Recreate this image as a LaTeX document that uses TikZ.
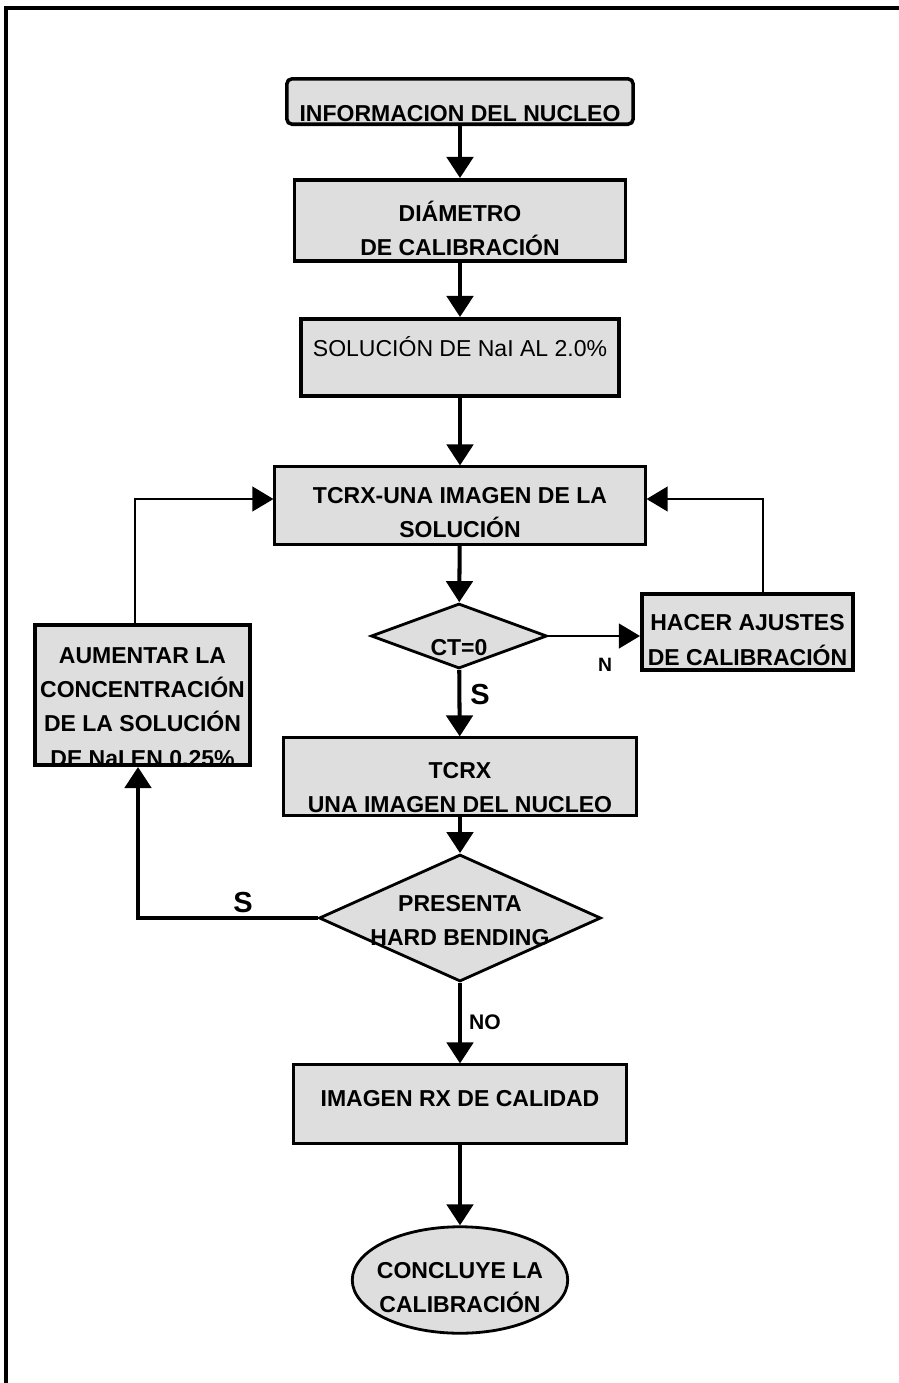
\documentclass[tikz,border=0pt]{standalone}
\usepackage{fontspec}
\setmainfont{Liberation Sans}
\usetikzlibrary{calc}
\usetikzlibrary{positioning}
\usetikzlibrary{shapes.geometric}
\usetikzlibrary{arrows.meta}

\definecolor{cajagris}{gray}{0.87}
% text of a box, shifted up or down inside it
\newcommand{\textocaja}[2]{\raisebox{#1}[0pt][0pt]{\makebox[0pt]{\begin{tabular}{@{}c@{}}#2\end{tabular}}}}

\tikzset{
  caja/.style={draw, line width=2pt, fill=cajagris, inner sep=0pt,
    font=\fontsize{13.1}{19.6}\selectfont\bfseries},
  rombo/.style={caja, diamond, line width=1.6pt},
  flecha/.style={line width=2.3pt, -{Triangle[width=15pt,length=12pt]}},
  retorno/.style={line width=1.3pt, -{Triangle[width=14pt,length=12pt]}},
  etiqueta/.style={inner sep=0pt, font=\bfseries}
}

\begin{document}
\begin{tikzpicture}[x=0.02cm,y=-0.02cm]
\useasboundingbox (0,0) rectangle (899,1383);
% outer frame, cut by the page
\draw[line width=2.3pt] (6,8) rectangle (940,1440);

%% boxes of the main column
\node[caja, rounded corners=3pt, minimum width=6.93cm, minimum height=0.91cm] (info) at (460,101.5) {\textocaja{-10.6pt}{INFORMACION DEL NUCLEO}};
\node[caja, minimum width=6.63cm, minimum height=1.63cm] (diam) at (460,220.5) {\textocaja{-9.2pt}{DIÁMETRO\\DE CALIBRACIÓN}};
\node[caja, minimum width=6.37cm, minimum height=1.55cm] (sol) at (460,357.5) {\textocaja{1.6pt}{\mdseries SOLUCIÓN DE NaI AL 2.0\%}};
\node[caja, line width=1.5pt, minimum width=7.41cm, minimum height=1.55cm] (tcrx1) at (460,505.5) {\textocaja{-7.7pt}{TCRX-UNA IMAGEN DE LA\\SOLUCIÓN}};
\node[rombo, minimum width=3.52cm, minimum height=1.3cm] (ct) at (459,636) {\textocaja{-10pt}{CT=0}};
\node[caja, line width=1.5pt, minimum width=7.07cm, minimum height=1.55cm] (tcrx2) at (460,776.5) {\textocaja{-10pt}{TCRX\\UNA IMAGEN DEL NUCLEO}};
\node[rombo, minimum width=5.64cm, minimum height=2.54cm] (pres) at (460,918) {\textocaja{-4.9pt}{PRESENTA\\HARD BENDING}};
\node[caja, line width=1.5pt, minimum width=6.67cm, minimum height=1.57cm] (imagen) at (460,1104) {\textocaja{-0.4pt}{IMAGEN RX DE CALIDAD}};
\node[caja, ellipse, line width=1.6pt, minimum width=4.31cm, minimum height=2.13cm] (concl) at (460,1280) {\textocaja{-8pt}{CONCLUYE LA\\CALIBRACIÓN}};

%% side boxes
\node[caja, minimum width=4.23cm, minimum height=1.53cm] (hacer) at (747.5,632) {\textocaja{-8.3pt}{HACER AJUSTES\\DE CALIBRACIÓN}};
\node[caja, minimum width=4.31cm, minimum height=2.81cm] (aum) at (142.5,695) {\textocaja{-10.3pt}{AUMENTAR LA\\CONCENTRACIÓN\\DE LA SOLUCIÓN\\DE NaI EN 0.25\%}};

%% labels
\node[etiqueta, font=\fontsize{11}{13}\selectfont\bfseries] (ln) at (605,665) {N};
\node[etiqueta, font=\fontsize{16.5}{20}\selectfont\bfseries] (ls1) at (480,695) {S};
\node[etiqueta, font=\fontsize{16.5}{20}\selectfont\bfseries] (ls2) at (243,903) {S};
\node[etiqueta, font=\fontsize{12}{14}\selectfont\bfseries] (lno) at (485,1022) {NO};

%% connectors
\draw[flecha] (info) -- (diam);
\draw[flecha] (diam) -- (sol);
\draw[flecha] (sol) -- (tcrx1);
\draw[flecha] (tcrx1) -- (ct);
\draw[flecha] (ct) -- (tcrx2);
\draw[flecha] (tcrx2) -- (pres);
\draw[flecha] (pres) -- (imagen);
\draw[flecha] (imagen) -- (concl);
\draw[retorno] (ct.east) -- (ct.east -| hacer.west); % N
\draw[retorno] ([xshift=0.31cm]hacer.north) |- ([yshift=0.13cm]tcrx1.east);
\draw[retorno] ([xshift=-0.15cm]aum.north) |- ([yshift=0.13cm]tcrx1.west);
\draw[flecha] (pres.west) -| ([xshift=-0.09cm]aum.south); % S
\end{tikzpicture}
\end{document}
